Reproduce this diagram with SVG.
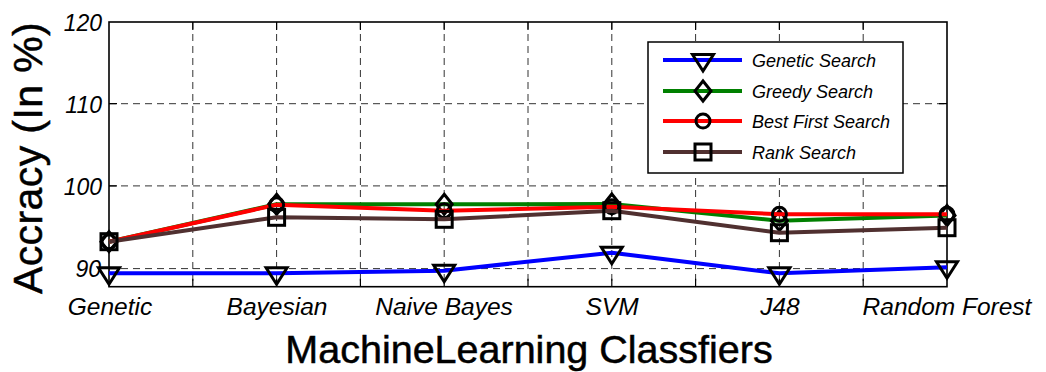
<svg xmlns="http://www.w3.org/2000/svg" width="1046" height="372" viewBox="0 0 1046 372">
<style>
.grid{stroke:#333;stroke-width:1;stroke-dasharray:7 5;fill:none}
.axis{stroke:#000;stroke-width:1.6;fill:none}
.tick{stroke:#000;stroke-width:1.2}
.tl{font-family:"Liberation Sans",Arial,sans-serif;font-style:italic;fill:#000}
.lab{font-family:"Liberation Sans",Arial,sans-serif;fill:#000;stroke:#000;stroke-width:0.5}
.ser{fill:none;stroke-width:4;stroke-linejoin:round}
.mk{fill:none;stroke:#000;stroke-width:3}
</style>
<defs>
<path id="tri" d="M-10.5,-5.5 L10.5,-5.5 L0,11 Z"/>
<path id="dia" d="M0,-10 L8,0 L0,10 L-8,0 Z"/>
<circle id="cir" cx="0" cy="0" r="7"/>
<rect id="sq" x="-8" y="-8" width="16" height="16"/>
</defs>
<rect width="1046" height="372" fill="#fff"/>
<g id="grid">
<path class="grid" d="M109,103.7H947M109,185.9H947M109,268.6H947"/>
<path class="grid" d="M192.8,22V286.7M276.6,22V286.7M360.4,22V286.7M444.2,22V286.7M528,22V286.7M611.8,22V286.7M695.6,22V286.7M779.4,22V286.7M863.2,22V286.7"/>
</g>
<g id="axes">
<rect class="axis" x="109" y="22" width="838" height="264.7"/>
<path class="tick" d="M192.8,286.7v-8M276.6,286.7v-8M360.4,286.7v-8M444.2,286.7v-8M528,286.7v-8M611.8,286.7v-8M695.6,286.7v-8M779.4,286.7v-8M863.2,286.7v-8M192.8,22v8M276.6,22v8M360.4,22v8M444.2,22v8M528,22v8M611.8,22v8M695.6,22v8M779.4,22v8M863.2,22v8M109,103.7h8M109,185.9h8M109,268.6h8M947,103.7h-8M947,185.9h-8M947,268.6h-8"/>
</g>
<g id="yticks" class="tl" font-size="23" text-anchor="end">
<text x="102" y="30.5">120</text>
<text x="102" y="112.5">110</text>
<text x="102" y="195">100</text>
<text x="101" y="277">90</text>
</g>
<g id="xticks" class="tl" font-size="24.5" text-anchor="middle">
<text x="110" y="315">Genetic</text>
<text x="277" y="315">Bayesian</text>
<text x="444" y="315">Naive Bayes</text>
<text x="612" y="315">SVM</text>
<text x="780" y="315">J48</text>
<text x="947" y="315">Random Forest</text>
</g>
<text id="xlabel" class="lab" font-size="39.5" text-anchor="middle" x="529" y="363">MachineLearning Classfiers</text>
<text id="ylabel" class="lab" font-size="41" letter-spacing="0.4" text-anchor="middle" transform="translate(42,158) rotate(-90)">Accracy (In %)</text>
<g id="connectors">
<g id="series-genetic">
<polyline class="ser" stroke="#0000ff" points="109,273.3 276.6,273.3 444.2,270.7 611.8,252.7 779.4,273.3 947,267.3"/>
<g class="mk">
<use href="#tri" x="109" y="273.3"/><use href="#tri" x="276.6" y="273.3"/><use href="#tri" x="444.2" y="270.7"/><use href="#tri" x="611.8" y="252.7"/><use href="#tri" x="779.4" y="273.3"/><use href="#tri" x="947" y="267.3"/>
</g>
</g>
<g id="series-greedy">
<polyline class="ser" stroke="#008000" points="109,241.7 276.6,204.3 444.2,204.3 611.8,204 779.4,220.7 947,215.5"/>
<g class="mk">
<use href="#dia" x="109" y="241.7"/><use href="#dia" x="276.6" y="204.3"/><use href="#dia" x="444.2" y="204.3"/><use href="#dia" x="611.8" y="204"/><use href="#dia" x="779.4" y="220.7"/><use href="#dia" x="947" y="215.5"/>
</g>
</g>
<g id="series-best">
<polyline class="ser" stroke="#ff0000" points="109,241.7 276.6,204.8 444.2,210.7 611.8,206.7 779.4,214.3 947,214.3"/>
<g class="mk">
<use href="#cir" x="109" y="241.7"/><use href="#cir" x="276.6" y="204.8"/><use href="#cir" x="444.2" y="210.7"/><use href="#cir" x="611.8" y="206.7"/><use href="#cir" x="779.4" y="214.3"/><use href="#cir" x="947" y="214.3"/>
</g>
</g>
<g id="series-rank">
<polyline class="ser" stroke="#503030" points="109,241.7 276.6,217.3 444.2,219.3 611.8,210.7 779.4,232.7 947,227.7"/>
<g class="mk">
<use href="#sq" x="109" y="241.7"/><use href="#sq" x="276.6" y="217.3"/><use href="#sq" x="444.2" y="219.3"/><use href="#sq" x="611.8" y="210.7"/><use href="#sq" x="779.4" y="232.7"/><use href="#sq" x="947" y="227.7"/>
</g>
</g>
</g>
<g id="legend">
<rect x="648" y="42" width="255" height="131" fill="#fff" stroke="#000" stroke-width="1.5"/>
<line x1="663" y1="60" x2="742" y2="60" stroke="#0000ff" stroke-width="4"/>
<use href="#tri" x="703" y="60" class="mk"/>
<line x1="663" y1="91" x2="742" y2="91" stroke="#008000" stroke-width="4"/>
<use href="#dia" x="703" y="91" class="mk"/>
<line x1="663" y1="121" x2="742" y2="121" stroke="#ff0000" stroke-width="4"/>
<use href="#cir" x="703" y="121" class="mk"/>
<line x1="663" y1="152" x2="742" y2="152" stroke="#503030" stroke-width="4"/>
<use href="#sq" x="703" y="152" class="mk"/>
<g class="tl" font-size="18">
<text x="752" y="66.5">Genetic Search</text>
<text x="752" y="97.5">Greedy Search</text>
<text x="752" y="127.5">Best First Search</text>
<text x="752" y="158.5">Rank Search</text>
</g>
</g>
</svg>
